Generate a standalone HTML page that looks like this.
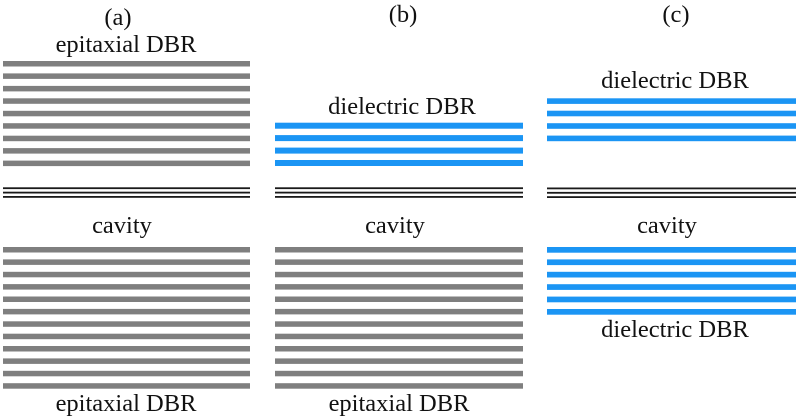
<!DOCTYPE html>
<html><head><meta charset="utf-8"><style>
html,body{margin:0;padding:0;background:#fff;}
svg{display:block;}
text{font-family:"Liberation Serif","Times New Roman",serif;font-size:24.5px;fill:#111;text-anchor:middle;}
</style></head><body>
<svg width="798" height="418" viewBox="0 0 798 418" xmlns="http://www.w3.org/2000/svg">
<rect width="798" height="418" fill="#fff"/>
<!-- labels -->
<text x="118" y="25">(a)</text>
<text x="403" y="22">(b)</text>
<text x="676" y="22">(c)</text>
<text x="126" y="52">epitaxial DBR</text>
<text x="402" y="114">dielectric DBR</text>
<text x="675" y="88">dielectric DBR</text>
<text x="122" y="233">cavity</text>
<text x="395" y="233">cavity</text>
<text x="667" y="233">cavity</text>
<text x="126" y="411">epitaxial DBR</text>
<text x="399" y="411">epitaxial DBR</text>
<text x="675" y="337">dielectric DBR</text>

<!-- (a) top gray bars -->
<g fill="#7f7f7f">
<rect x="3" y="61" width="247" height="5.5"/>
<rect x="3" y="73.4" width="247" height="5.5"/>
<rect x="3" y="85.9" width="247" height="5.5"/>
<rect x="3" y="98.3" width="247" height="5.5"/>
<rect x="3" y="110.8" width="247" height="5.5"/>
<rect x="3" y="123.2" width="247" height="5.5"/>
<rect x="3" y="135.7" width="247" height="5.5"/>
<rect x="3" y="148.1" width="247" height="5.5"/>
<rect x="3" y="160.6" width="247" height="5.5"/>
</g>
<!-- (a) bottom gray bars -->
<g fill="#7f7f7f">
<rect x="3" y="247" width="247" height="5.5"/>
<rect x="3" y="259.4" width="247" height="5.5"/>
<rect x="3" y="271.8" width="247" height="5.5"/>
<rect x="3" y="284.1" width="247" height="5.5"/>
<rect x="3" y="296.5" width="247" height="5.5"/>
<rect x="3" y="308.9" width="247" height="5.5"/>
<rect x="3" y="321.3" width="247" height="5.5"/>
<rect x="3" y="333.7" width="247" height="5.5"/>
<rect x="3" y="346.0" width="247" height="5.5"/>
<rect x="3" y="358.4" width="247" height="5.5"/>
<rect x="3" y="370.8" width="247" height="5.5"/>
<rect x="3" y="383.2" width="247" height="5.5"/>
</g>
<!-- (b) bottom gray bars -->
<g fill="#7f7f7f">
<rect x="275" y="247" width="248" height="5.5"/>
<rect x="275" y="259.4" width="248" height="5.5"/>
<rect x="275" y="271.8" width="248" height="5.5"/>
<rect x="275" y="284.1" width="248" height="5.5"/>
<rect x="275" y="296.5" width="248" height="5.5"/>
<rect x="275" y="308.9" width="248" height="5.5"/>
<rect x="275" y="321.3" width="248" height="5.5"/>
<rect x="275" y="333.7" width="248" height="5.5"/>
<rect x="275" y="346.0" width="248" height="5.5"/>
<rect x="275" y="358.4" width="248" height="5.5"/>
<rect x="275" y="370.8" width="248" height="5.5"/>
<rect x="275" y="383.2" width="248" height="5.5"/>
</g>
<!-- (b) top blue bars -->
<g fill="#1b95f4">
<rect x="275" y="122.7" width="248" height="6"/>
<rect x="275" y="135.1" width="248" height="6"/>
<rect x="275" y="147.6" width="248" height="6"/>
<rect x="275" y="160" width="248" height="6"/>
</g>
<!-- (c) top blue bars -->
<g fill="#1b95f4">
<rect x="547" y="98.3" width="249" height="5.6"/>
<rect x="547" y="110.7" width="249" height="5.6"/>
<rect x="547" y="123.2" width="249" height="5.6"/>
<rect x="547" y="135.6" width="249" height="5.6"/>
</g>
<!-- (c) bottom blue bars -->
<g fill="#1b95f4">
<rect x="547" y="247" width="249" height="5.7"/>
<rect x="547" y="259.4" width="249" height="5.7"/>
<rect x="547" y="271.8" width="249" height="5.7"/>
<rect x="547" y="284.2" width="249" height="5.7"/>
<rect x="547" y="296.6" width="249" height="5.7"/>
<rect x="547" y="309" width="249" height="5.7"/>
</g>
<!-- black triple lines -->
<g fill="#1a1a1a">
<rect x="3" y="187.3" width="247" height="1.8"/>
<rect x="3" y="191.7" width="247" height="1.8"/>
<rect x="3" y="196" width="247" height="1.8"/>
<rect x="275" y="187.3" width="248" height="1.8"/>
<rect x="275" y="191.7" width="248" height="1.8"/>
<rect x="275" y="196" width="248" height="1.8"/>
<rect x="547" y="187.5" width="249" height="1.8"/>
<rect x="547" y="191.9" width="249" height="1.8"/>
<rect x="547" y="196.2" width="249" height="1.8"/>
</g>
</svg>
</body></html>
